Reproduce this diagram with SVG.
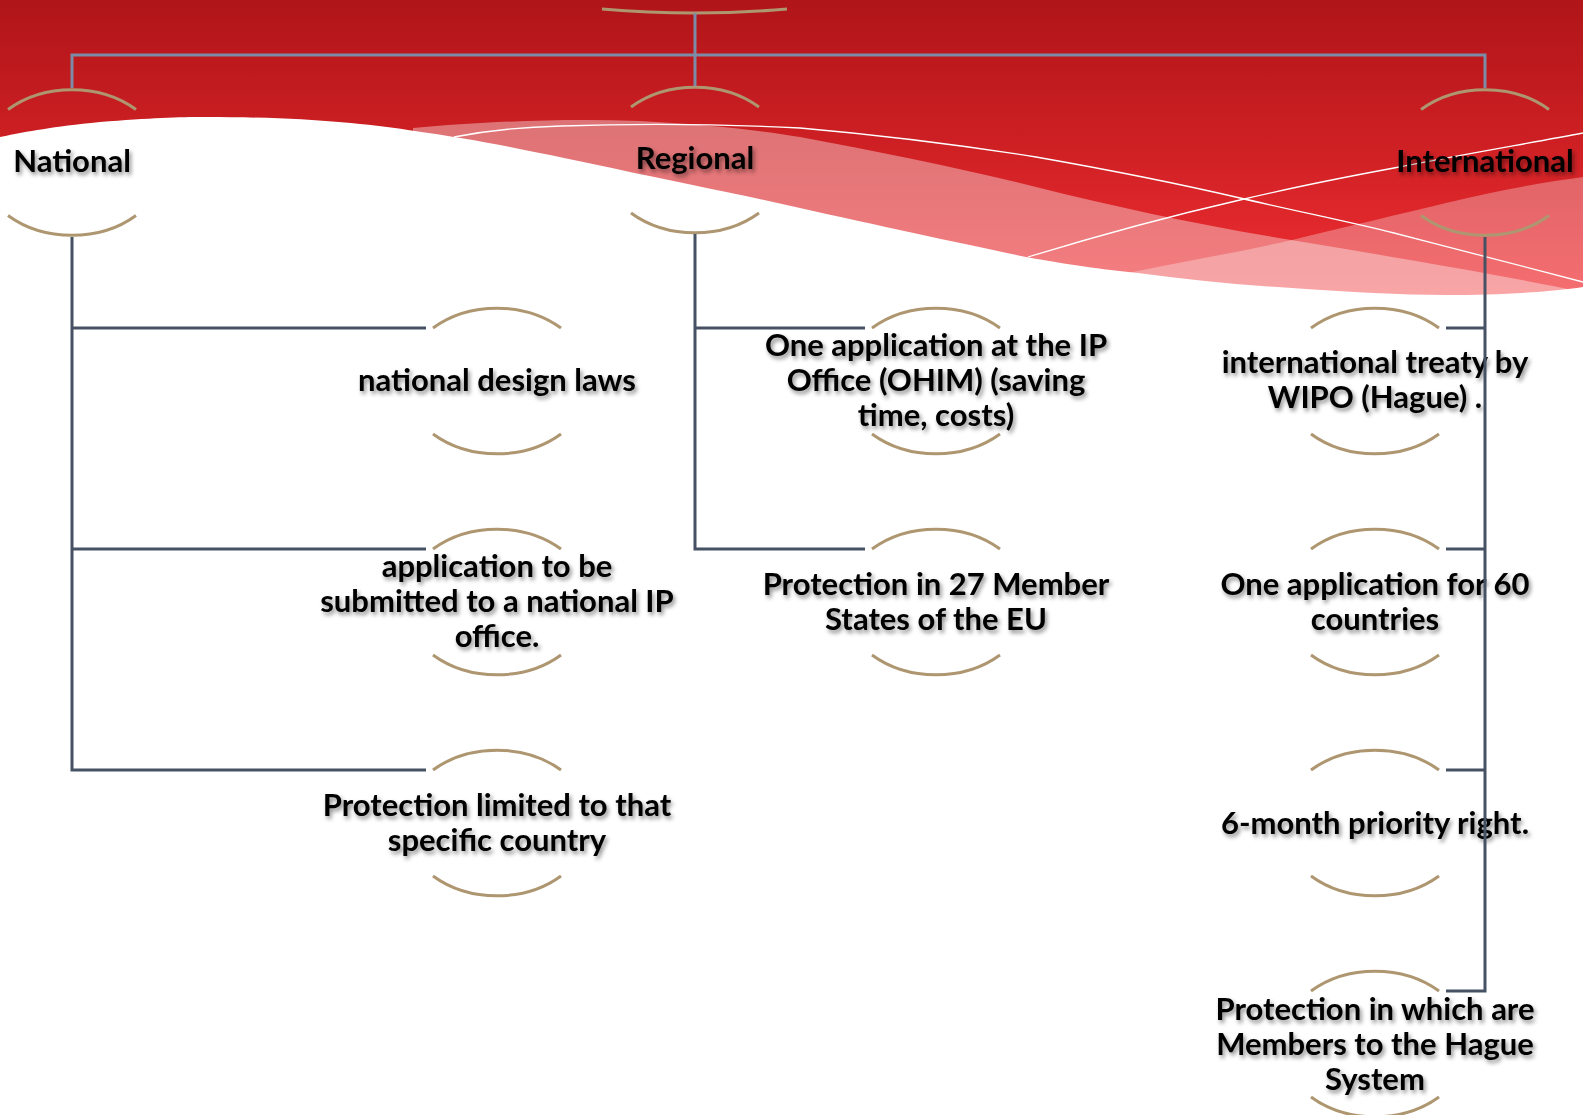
<svg xmlns="http://www.w3.org/2000/svg" width="1583" height="1115" viewBox="0 0 1583 1115">
<defs>
<linearGradient id="red" x1="0" y1="0" x2="0" y2="300" gradientUnits="userSpaceOnUse">
<stop offset="0" stop-color="#B01519"/>
<stop offset="0.5" stop-color="#CF2024"/>
<stop offset="1" stop-color="#F23034"/>
</linearGradient>
<filter id="sh" x="-10%" y="-30%" width="120%" height="160%">
<feDropShadow dx="2" dy="3" stdDeviation="2.2" flood-color="#000" flood-opacity="0.45"/>
</filter>
<style>
.arc{fill:none;stroke:#AE9670;stroke-width:3}
.t{font-family:Lato,"Open Sans","Liberation Sans",sans-serif;font-weight:bold;font-size:31px;fill:#000;text-anchor:middle;filter:url(#sh)}
.top{fill:none;stroke:#7C8CA6;stroke-width:3}
.c{fill:none;stroke:#465264;stroke-width:3}
</style>
</defs>
<g id="background">
<rect x="0" y="0" width="1583" height="1115" fill="#FFFFFF"/>
<path d="M0 0 H1583 V300 H0 Z" fill="url(#red)"/>
<path d="M413 128 C480 122 560 118 640 121 C700 124 760 130 800 137 C880 152 960 168 1036 187 C1120 208 1200 225 1291 240 C1400 258 1500 275 1583 292 V300 H413 Z" fill="#FFFFFF" fill-opacity="0.38"/>
<path d="M1128 273 C1180 262 1240 252 1292 240 C1350 226 1400 214 1446 203 C1500 190 1545 182 1583 177 V300 H1128 Z" fill="#FFFFFF" fill-opacity="0.3"/>
<path d="M0 137 C30 131 51 127 100 122 C150 118 180 117 204 117 C300 117 360 123 408 130 C450 136 480 141 510 147 C550 155 580 161 612 168 C680 183 740 194 800 208 C880 226 960 243 1026 257 C1070 265 1100 269 1138 273 C1190 280 1240 285 1292 288 C1350 292 1400 295 1446 295 C1500 295 1550 292 1583 287 V1115 H0 Z" fill="#FFFFFF"/>
<path d="M454 137 C490 130 520 127 561 126 C650 123 720 124 800 128 C880 135 960 145 1036 157 C1110 170 1180 184 1240 198 C1300 212 1350 222 1394 233 C1460 250 1530 268 1583 282" fill="none" stroke="#FFFFFF" stroke-width="1.3"/>
<path d="M1028 257 C1100 235 1170 216 1240 200 C1290 188 1340 178 1394 168 C1460 155 1530 143 1583 133" fill="none" stroke="#FFFFFF" stroke-width="1.3"/>
</g>
<g id="root">
<path class="arc" d="M602 9 Q695 17 787 9"/>
</g>
<g id="national">
<path class="arc" d="M8 109.5 A94 74 0 0 1 136 109.5"/>
<path class="arc" d="M8 215.5 A94 74 0 0 0 136 215.5"/>
<text class="t" x="72" y="172">National</text>
</g>
<g id="regional">
<path class="arc" d="M631 107 A94 74 0 0 1 759 107"/>
<path class="arc" d="M631 213 A94 74 0 0 0 759 213"/>
<text class="t" x="695" y="169">Regional</text>
</g>
<g id="international">
<path class="arc" d="M1421 109.5 A94 74 0 0 1 1549 109.5"/>
<path class="arc" d="M1421 215.5 A94 74 0 0 0 1549 215.5"/>
<text class="t" x="1485" y="172">International</text>
</g>
<g id="n1">
<path class="arc" d="M433 328 A94 74 0 0 1 561 328"/>
<path class="arc" d="M433 434 A94 74 0 0 0 561 434"/>
<text class="t" x="497" y="391">national design laws</text>
</g>
<g id="n2">
<path class="arc" d="M433 549 A94 74 0 0 1 561 549"/>
<path class="arc" d="M433 655 A94 74 0 0 0 561 655"/>
<text class="t" x="497" y="577">application to be</text>
<text class="t" x="497" y="612">submitted to a national IP</text>
<text class="t" x="497" y="647">office.</text>
</g>
<g id="n3">
<path class="arc" d="M433 770 A94 74 0 0 1 561 770"/>
<path class="arc" d="M433 876 A94 74 0 0 0 561 876"/>
<text class="t" x="497" y="816">Protection limited to that</text>
<text class="t" x="497" y="851">specific country</text>
</g>
<g id="r1">
<path class="arc" d="M872 328 A94 74 0 0 1 1000 328"/>
<path class="arc" d="M872 434 A94 74 0 0 0 1000 434"/>
<text class="t" x="936" y="356">One application at the IP</text>
<text class="t" x="936" y="391">Office (OHIM) (saving</text>
<text class="t" x="936" y="426">time, costs)</text>
</g>
<g id="r2">
<path class="arc" d="M872 549 A94 74 0 0 1 1000 549"/>
<path class="arc" d="M872 655 A94 74 0 0 0 1000 655"/>
<text class="t" x="936" y="595">Protection in 27 Member</text>
<text class="t" x="936" y="630">States of the EU</text>
</g>
<g id="i1">
<path class="arc" d="M1311 328 A94 74 0 0 1 1439 328"/>
<path class="arc" d="M1311 434 A94 74 0 0 0 1439 434"/>
<text class="t" x="1375" y="373">international treaty by</text>
<text class="t" x="1375" y="408">WIPO (Hague) .</text>
</g>
<g id="i2">
<path class="arc" d="M1311 549 A94 74 0 0 1 1439 549"/>
<path class="arc" d="M1311 655 A94 74 0 0 0 1439 655"/>
<text class="t" x="1375" y="595">One application for 60</text>
<text class="t" x="1375" y="630">countries</text>
</g>
<g id="i3">
<path class="arc" d="M1311 770 A94 74 0 0 1 1439 770"/>
<path class="arc" d="M1311 876 A94 74 0 0 0 1439 876"/>
<text class="t" x="1375" y="834">6-month priority right.</text>
</g>
<g id="i4">
<path class="arc" d="M1311 991 A94 74 0 0 1 1439 991"/>
<path class="arc" d="M1311 1097 A94 74 0 0 0 1439 1097"/>
<text class="t" x="1375" y="1020">Protection in which are</text>
<text class="t" x="1375" y="1055">Members to the Hague</text>
<text class="t" x="1375" y="1090">System</text>
</g>
<g id="connectors">
<path class="top" d="M72 88 V55 H1485 V88"/>
<path class="top" d="M695 13 V86"/>
<path class="c" d="M72 237 V770 H426 M72 328 H426 M72 549 H426"/>
<path class="c" d="M695 234 V549 H865 M695 328 H865"/>
<path class="c" d="M1485 237 V991 H1446 M1485 328 H1446 M1485 549 H1446 M1485 770 H1446"/>
</g>
</svg>
